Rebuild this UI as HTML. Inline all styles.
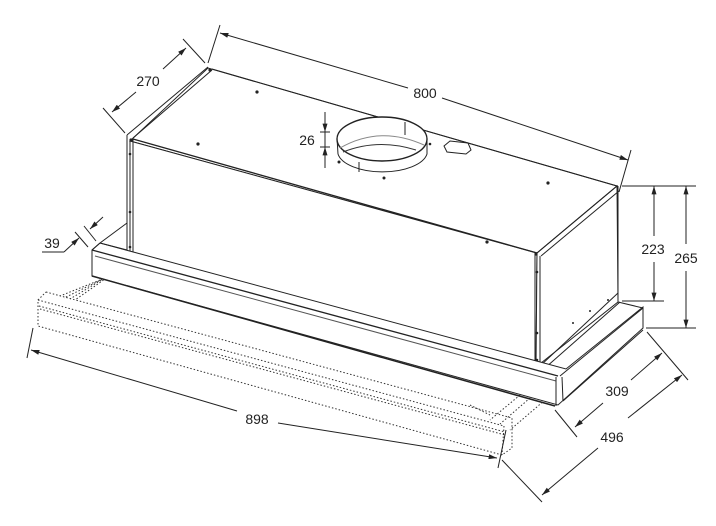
<!DOCTYPE html>
<html><head><meta charset="utf-8"><style>
html,body{margin:0;padding:0;background:#fff;}
svg{display:block;}
text{font-family:"Liberation Sans",sans-serif;font-size:14px;fill:#222;}
</style></head><body>
<svg width="716" height="526" viewBox="0 0 716 526" xmlns="http://www.w3.org/2000/svg">
<defs>
<marker id="a" viewBox="0 0 10 6" refX="10" refY="3" markerWidth="9" markerHeight="5" orient="auto-start-reverse" markerUnits="userSpaceOnUse"><path d="M0,0L10,3L0,6z" fill="#222"/></marker>
</defs>
<g stroke="#222" fill="none" stroke-width="1">
<!-- dotted extended panel -->
<g stroke-dasharray="1.5,2" stroke="#333">
<polyline points="46,292 512,418 512,448 502,455 38,326 38,300 46,292"/>
<line x1="38" y1="300" x2="504" y2="426"/>
<line x1="504" y1="426" x2="502" y2="455"/>
<line x1="39" y1="306" x2="505" y2="432"/>
<line x1="40" y1="309" x2="505" y2="435"/>
<line x1="100" y1="280" x2="60" y2="296"/>
<line x1="105" y1="278" x2="64" y2="298"/>
<line x1="110" y1="275" x2="70" y2="299"/>
<line x1="115" y1="272" x2="75" y2="300"/>
<line x1="470" y1="405" x2="490" y2="415"/>
<line x1="520" y1="395" x2="490" y2="420"/>
<line x1="530" y1="398" x2="500" y2="424"/>
<line x1="545" y1="400" x2="510" y2="430"/>
</g>
<!-- box top face -->
<polygon points="130,141 208,68 617,186 537,253" fill="#fff"/>
<polygon points="130,141 537,253 536,367 130,266" fill="#fff"/>
<polygon points="537,253 617,186 618,302 536,367" fill="#fff"/>
<line x1="127" y1="135" x2="208" y2="67"/>
<line x1="133" y1="138" x2="212" y2="70"/>
<line x1="212" y1="69" x2="617" y2="186"/>
<line x1="133" y1="139" x2="537" y2="253" stroke-width="1.3"/>
<line x1="537" y1="253" x2="617" y2="186"/>
<line x1="541" y1="256" x2="619" y2="191"/>
<line x1="127" y1="135" x2="127" y2="265"/>
<line x1="133" y1="139" x2="133" y2="265"/>
<line x1="535" y1="254" x2="535" y2="367"/>
<line x1="540" y1="256" x2="540" y2="368"/>
<line x1="618" y1="186" x2="618" y2="302"/>
<line x1="540" y1="366" x2="618" y2="293"/>
<line x1="545" y1="368" x2="620" y2="302"/>
<!-- duct -->
<path d="M337,138 L338,154 A45,21 0 0 0 427,154 L427,138" fill="#fff"/>
<ellipse cx="382" cy="139" rx="45" ry="22" fill="#fff" stroke-width="1.4"/>
<path d="M340,148 Q380,125 424,145" stroke="#888"/>
<path d="M343,152 Q378,138 416,150" stroke="#333"/>
<line x1="405" y1="122" x2="405" y2="135"/>
<line x1="359" y1="162" x2="359" y2="172"/>
<path d="M444,146 L450,141 L468,143 L471,150 L466,154 L447,152 Z"/>
<!-- panel -->
<polygon points="92,250 100,243 566,369 643,307 643,328 558,405 92,276" fill="#fff"/>
<line x1="100" y1="243" x2="127" y2="250"/>
<line x1="92" y1="250" x2="100" y2="243"/>
<line x1="92" y1="250" x2="558" y2="376" stroke-width="1.3"/>
<line x1="95" y1="256" x2="556" y2="381" stroke="#555"/>
<line x1="92" y1="250" x2="92" y2="276"/>
<line x1="92" y1="276" x2="555" y2="406" stroke-width="1.5"/>
<line x1="556" y1="377" x2="556" y2="406"/>
<line x1="562" y1="377" x2="563" y2="401"/>
<line x1="560" y1="376" x2="643" y2="308"/>
<line x1="643" y1="308" x2="643" y2="328"/>
<line x1="563" y1="401" x2="643" y2="330"/>
<line x1="618" y1="302" x2="643" y2="308"/>
</g>
<!-- screws -->
<g fill="#222">
<circle cx="257" cy="92" r="1.6"/><circle cx="198" cy="144" r="1.6"/><circle cx="548" cy="183" r="1.6"/><circle cx="487" cy="242" r="1.6"/>
<circle cx="130" cy="154" r="1.3"/><circle cx="130" cy="212" r="1.3"/><circle cx="130" cy="247" r="1.3"/>
<circle cx="537" cy="272" r="1.3"/><circle cx="537" cy="333" r="1.3"/><circle cx="537" cy="360" r="1.3"/>
<circle cx="210" cy="70" r="1.6"/><circle cx="536" cy="254" r="1.6"/><circle cx="131" cy="140" r="1.6"/>
<circle cx="384" cy="178" r="1.5"/><circle cx="339" cy="162" r="1.5"/><circle cx="430" cy="144" r="1.3"/>
<circle cx="573" cy="323" r="1"/><circle cx="590" cy="311" r="1"/><circle cx="608" cy="300" r="1"/>
</g>
<!-- dimensions -->
<g stroke="#222" fill="none" stroke-width="1">
<line x1="103" y1="108" x2="125" y2="133"/>
<line x1="183" y1="39" x2="205" y2="63"/>
<line x1="112" y1="112" x2="136" y2="92" marker-start="url(#a)"/>
<line x1="163" y1="69" x2="186" y2="48" marker-end="url(#a)"/>
<line x1="220" y1="25" x2="208" y2="63"/>
<line x1="631" y1="150" x2="619" y2="192"/>
<line x1="220" y1="33" x2="408" y2="88" marker-start="url(#a)"/>
<line x1="442" y1="98" x2="628" y2="160" marker-end="url(#a)"/>
<line x1="325" y1="112" x2="325" y2="132" marker-end="url(#a)"/>
<line x1="320" y1="132" x2="330" y2="132"/>
<line x1="325" y1="132" x2="325" y2="147"/>
<line x1="320" y1="147" x2="330" y2="147"/>
<line x1="325" y1="168" x2="325" y2="147" marker-end="url(#a)"/>
<line x1="622" y1="186" x2="696" y2="186"/>
<line x1="622" y1="301" x2="664" y2="301"/>
<line x1="646" y1="328" x2="696" y2="328"/>
<line x1="654" y1="236" x2="654" y2="186" marker-end="url(#a)"/>
<line x1="654" y1="262" x2="654" y2="301" marker-end="url(#a)"/>
<line x1="686" y1="244" x2="686" y2="186" marker-end="url(#a)"/>
<line x1="686" y1="271" x2="686" y2="328" marker-end="url(#a)"/>
<line x1="647" y1="332" x2="688" y2="380"/>
<line x1="555" y1="410" x2="577" y2="437"/>
<line x1="575" y1="427" x2="603" y2="403" marker-start="url(#a)"/>
<line x1="631" y1="380" x2="662" y2="353" marker-end="url(#a)"/>
<line x1="502" y1="460" x2="542" y2="502"/>
<line x1="542" y1="495" x2="598" y2="448" marker-start="url(#a)"/>
<line x1="628" y1="418" x2="682" y2="375" marker-end="url(#a)"/>
<line x1="33" y1="328" x2="27" y2="358"/>
<line x1="506" y1="430" x2="498" y2="468"/>
<line x1="31" y1="350" x2="237" y2="411" marker-start="url(#a)"/>
<line x1="278" y1="423" x2="497" y2="458" marker-end="url(#a)"/>
<line x1="75" y1="232" x2="88" y2="247"/>
<line x1="84" y1="226" x2="96" y2="241"/>
<line x1="42" y1="252" x2="64" y2="252"/>
<line x1="64" y1="252" x2="79" y2="238" marker-end="url(#a)"/>
<line x1="103" y1="217" x2="90" y2="229" marker-end="url(#a)"/>
<line x1="127" y1="223" x2="100" y2="243"/>
</g>
<text x="148" y="86" text-anchor="middle">270</text>
<text x="425" y="98" text-anchor="middle">800</text>
<text x="307" y="145" text-anchor="middle">26</text>
<text x="653" y="254" text-anchor="middle">223</text>
<text x="686" y="263" text-anchor="middle">265</text>
<text x="617" y="396" text-anchor="middle">309</text>
<text x="612" y="442" text-anchor="middle">496</text>
<text x="257" y="424" text-anchor="middle">898</text>
<text x="52" y="248" text-anchor="middle">39</text>
</svg>
</body></html>
